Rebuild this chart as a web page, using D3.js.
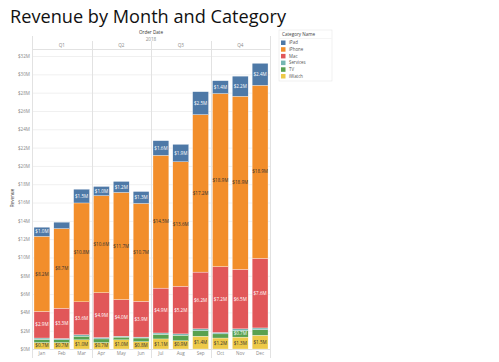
<!DOCTYPE html>
<html>
<head>
<meta charset="utf-8">
<script src="https://cdn.jsdelivr.net/npm/d3@7"></script>
<style>
  body { margin: 0; background: #fff; }
  svg { font-family: "Open Sans", sans-serif; }
</style>
</head>
<body>
<div class="container"></div>
<script>
const WIDTH = 499;
const HEIGHT = 362;

// data (revenue, $M)
var months = ["Jan","Feb","Mar","Apr","May","Jun","Jul","Aug","Sep","Oct","Nov","Dec"];
var quarters = ["Q1","Q2","Q3","Q4"];
var categories = ["iPad","iPhone","Mac","Services","TV","iWatch"];
var iPad     = [1.0, 0.7, 1.5, 1.0, 1.2, 1.3, 1.6, 1.9, 2.5, 1.4, 2.2, 2.4];
var iPhone   = [8.2, 8.7, 10.8, 10.6, 11.7, 10.7, 14.5, 13.6, 17.2, 18.9, 18.9, 18.9];
var mac      = [2.9, 3.3, 3.6, 4.9, 4.0, 3.9, 4.9, 5.2, 6.2, 7.2, 6.5, 7.6];
var services = [0.15, 0.15, 0.15, 0.15, 0.1, 0.1, 0.15, 0.15, 0.2, 0.15, 0.2, 0.2];
var tv       = [0.35, 0.3, 0.4, 0.4, 0.3, 0.4, 0.5, 0.6, 0.6, 0.45, 0.7, 0.6];
var iWatch   = [0.7, 0.7, 1.0, 0.7, 1.0, 0.8, 1.1, 0.9, 1.4, 1.2, 1.3, 1.5];
var yTicks = d3.range(0, 33, 2);

var colors = {
  "iPad": "#4e79a7", "iPhone": "#f28e2b", "Mac": "#e15759",
  "Services": "#76b7b2", "TV": "#59a14f", "iWatch": "#edc948"
};
var darkText = { "iPhone": true, "iWatch": true, "TV": false };

var rows = months.map(function(m, i){
  return { month: m, "iPad": iPad[i], "iPhone": iPhone[i], "Mac": mac[i],
           "Services": services[i], "TV": tv[i], "iWatch": iWatch[i] };
});

var stackOrder = ["iWatch","TV","Services","Mac","iPhone","iPad"];
var series = d3.stack().keys(stackOrder)(rows);

var panel = { left: 32, right: 270, top: 29, bottom: 358 };

var x = d3.scaleBand().domain(months)
    .range([panel.left, panel.right])
    .paddingInner(0.2).paddingOuter(0.1);
var y = d3.scaleLinear().domain([0, 32]).range([349, 56]);

var svg = d3.select(".container").append("svg")
    .attr("width", WIDTH).attr("height", HEIGHT);

svg.append("text")
    .attr("x", 10).attr("y", 23)
    .attr("font-size", 19)
    .attr("textLength", 276).attr("lengthAdjust", "spacingAndGlyphs")
    .attr("fill", "#111")
    .text("Revenue by Month and Category");

// gridlines
svg.append("g").selectAll("line")
    .data(yTicks.slice(1))
    .enter().append("line")
    .attr("x1", panel.left).attr("x2", panel.right)
    .attr("y1", function(d){ return y(d) + 0.5; })
    .attr("y2", function(d){ return y(d) + 0.5; })
    .attr("stroke", "#f0f0f0").attr("stroke-width", 1);

// header texts
svg.append("text").attr("x", (panel.left + panel.right) / 2).attr("y", 34)
    .attr("text-anchor", "middle").attr("font-size", 4.6).attr("fill", "#333")
    .text("Order Date");
svg.append("text").attr("x", (panel.left + panel.right) / 2).attr("y", 41)
    .attr("text-anchor", "middle").attr("font-size", 4.6).attr("fill", "#888")
    .text("2018");

var qStep = x.step() * 3;
svg.append("g").selectAll("text")
    .data(quarters)
    .enter().append("text")
    .attr("x", function(d, i){ return x(months[i * 3]) - x.step() * x.paddingInner() / 2 + qStep / 2; })
    .attr("y", 47)
    .attr("text-anchor", "middle").attr("font-size", 4.6).attr("fill", "#888")
    .text(function(d){ return d; });

// panel frame lines
var frame = svg.append("g").attr("stroke", "#e2e2e2").attr("stroke-width", 1);
frame.append("line").attr("x1", panel.left).attr("x2", panel.right).attr("y1", 49.5).attr("y2", 49.5);
frame.append("line").attr("x1", panel.left).attr("x2", panel.right).attr("y1", 349.5).attr("y2", 349.5);
frame.append("line").attr("x1", panel.left + 0.5).attr("x2", panel.left + 0.5).attr("y1", 36).attr("y2", panel.bottom);
frame.append("line").attr("x1", panel.right + 0.5).attr("x2", panel.right + 0.5).attr("y1", 36).attr("y2", panel.bottom);
frame.selectAll(".qsep")
    .data([3, 6, 9])
    .enter().append("line")
    .attr("class", "qsep")
    .attr("x1", function(d){ return Math.round(x(months[d]) - x.step() * x.paddingInner() / 2) + 0.5; })
    .attr("x2", function(d){ return Math.round(x(months[d]) - x.step() * x.paddingInner() / 2) + 0.5; })
    .attr("y1", 41).attr("y2", panel.bottom);

// y axis
var yAxis = svg.append("g")
    .attr("transform", "translate(" + (panel.left - 1) + ",0)")
    .call(d3.axisLeft(y).tickValues(yTicks).tickSize(0).tickPadding(1)
        .tickFormat(function(d){ return "$" + d + "M"; }));
yAxis.select(".domain").remove();
yAxis.selectAll("text").attr("font-size", 4.6).attr("fill", "#888")
    .attr("font-family", "Open Sans, sans-serif");

svg.append("text")
    .attr("transform", "translate(14,198) rotate(-90)")
    .attr("text-anchor", "middle").attr("font-size", 4.6).attr("fill", "#333")
    .text("Revenue");

// x axis (month labels)
var xAxis = svg.append("g")
    .attr("transform", "translate(0,349)")
    .call(d3.axisBottom(x).tickSize(0).tickPadding(3));
xAxis.select(".domain").remove();
xAxis.selectAll("text").attr("font-size", 4.6).attr("fill", "#888")
    .attr("font-family", "Open Sans, sans-serif");

// bars
var layers = svg.append("g").selectAll("g")
    .data(series)
    .enter().append("g")
    .attr("fill", function(d){ return colors[d.key]; });

layers.selectAll("rect")
    .data(function(d){ return d; })
    .enter().append("rect")
    .attr("x", function(d){ return x(d.data.month); })
    .attr("width", x.bandwidth())
    .attr("y", function(d){ return y(d[1]); })
    .attr("height", function(d){ return y(d[0]) - y(d[1]); })
    .attr("stroke", "#fff").attr("stroke-width", 0.3);

// segment labels
layers.each(function(s){
  d3.select(this).selectAll("text")
    .data(s.filter(function(d){ return d[1] - d[0] >= 0.7; }))
    .enter().append("text")
    .attr("x", function(d){ return x(d.data.month) + x.bandwidth() / 2; })
    .attr("y", function(d){ return (y(d[0]) + y(d[1])) / 2 + 1.6; })
    .attr("text-anchor", "middle")
    .attr("font-size", 4.6)
    .attr("fill", darkText[s.key] ? "#333" : "#fff")
    .text(function(d){ return "$" + (d[1] - d[0]).toFixed(1) + "M"; });
});

// legend
var legend = svg.append("g").attr("transform", "translate(279,30)");
legend.append("rect").attr("width", 53).attr("height", 51)
    .attr("fill", "#fff").attr("stroke", "#e6e6e6").attr("stroke-width", 0.6);
legend.append("text").attr("x", 3).attr("y", 6).attr("font-size", 4.6).attr("fill", "#444")
    .text("Category Name");
legend.append("line").attr("x1", 0.5).attr("x2", 52.5).attr("y1", 8.5).attr("y2", 8.5)
    .attr("stroke", "#eee").attr("stroke-width", 0.6);
var items = legend.selectAll(".item")
    .data(categories)
    .enter().append("g")
    .attr("class", "item")
    .attr("transform", function(d, i){ return "translate(2," + (10.5 + i * 6.7) + ")"; });
items.append("rect").attr("width", 4.5).attr("height", 4.5)
    .attr("fill", function(d){ return colors[d]; });
items.append("text").attr("x", 8).attr("y", 3.8).attr("font-size", 4.4).attr("fill", "#555")
    .text(function(d){ return d; });
</script>
</body>
</html>
